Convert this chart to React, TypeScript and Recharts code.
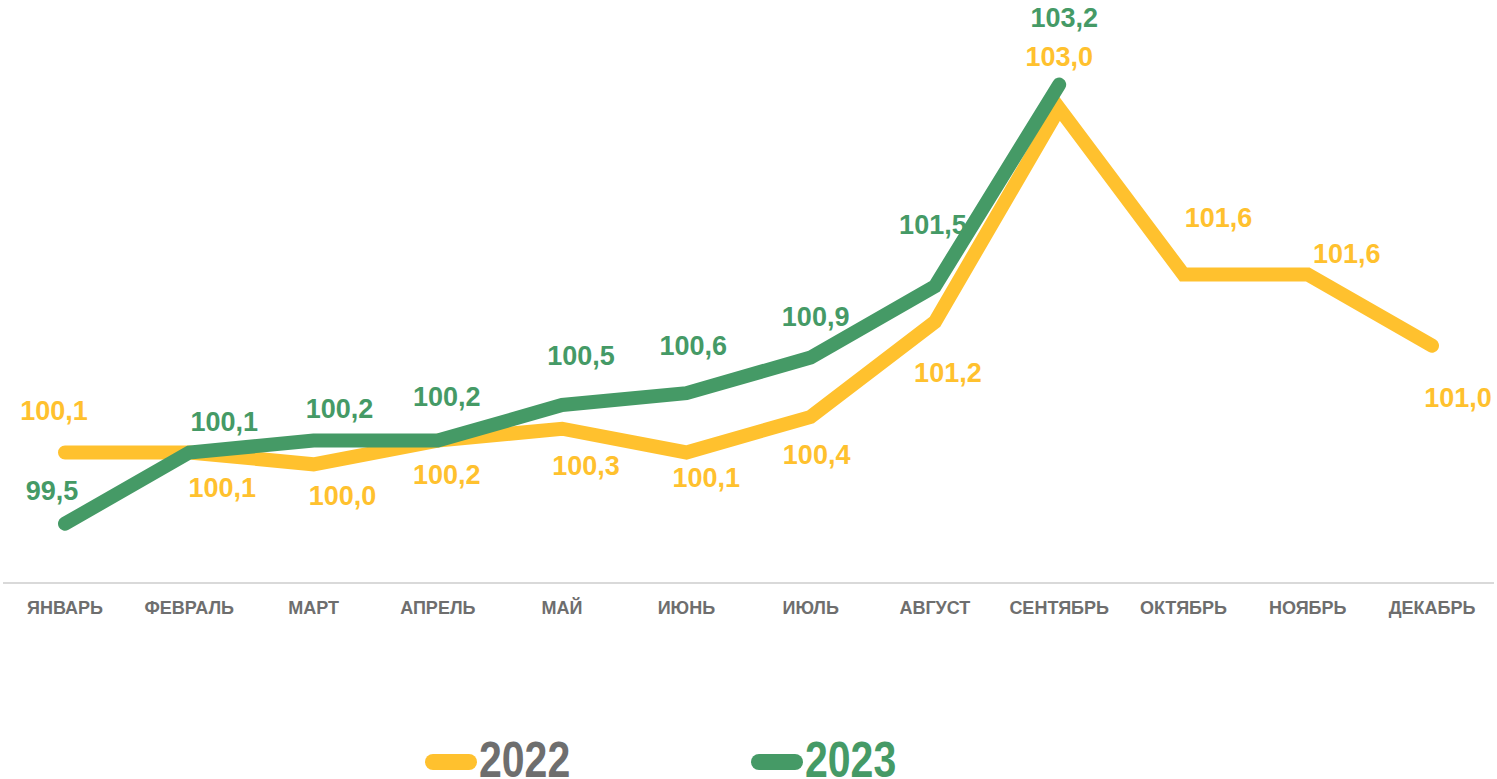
import { LineChart, Line, XAxis, YAxis, LabelList } from 'recharts'

// ── Palette ──────────────────────────────────────────────────────────────────
const C = {
  yellow: '#FFC12E',
  green:  '#459A66',
  gray:   '#6E6E6E',
  axis:   '#D9D9D9',
}

// ── Data ─────────────────────────────────────────────────────────────────────
const months = [
  'ЯНВАРЬ', 'ФЕВРАЛЬ', 'МАРТ', 'АПРЕЛЬ', 'МАЙ', 'ИЮНЬ',
  'ИЮЛЬ', 'АВГУСТ', 'СЕНТЯБРЬ', 'ОКТЯБРЬ', 'НОЯБРЬ', 'ДЕКАБРЬ',
]
const values2022 = [100.1, 100.1, 100.0, 100.2, 100.3, 100.1, 100.4, 101.2, 103.0, 101.6, 101.6, 101.0]
const values2023 = [99.5, 100.1, 100.2, 100.2, 100.5, 100.6, 100.9, 101.5, 103.2, null, null, null]

const data = months.map((m, i) => ({ month: m, y2022: values2022[i], y2023: values2023[i] }))

// label offsets (dx, dy) from each point, per series
const OFFS_2022 = [
  [-11, -41], [33, 36], [29, 32], [9, 34], [24, 37], [20, 26],
  [6, 38], [13, 51], [0, -51], [35, -56], [39, -20], [26, 52],
]
const OFFS_2023 = [
  [-13, -33], [35, -30], [26, -32], [9, -44], [19, -49], [7, -47],
  [5, -41], [-2, -61], [5, -67],
]

const FONT = "'Liberation Sans', Arial, sans-serif"
const fmt = (v: number) => v.toFixed(1).replace('.', ',')

function makeLabel(color: string, offs: number[][]) {
  return (props: any) => {
    const { x, y, value, index } = props
    if (value == null || x == null) return null
    const [dx, dy] = offs[index] ?? [0, -30]
    return (
      <text
        x={x + dx} y={y + dy}
        textAnchor="middle" dominantBaseline="central"
        fill={color} fontSize={27} fontWeight={700} fontFamily={FONT}
      >
        {fmt(value)}
      </text>
    )
  }
}

// narrow bold legend text (condensed by scaling, no narrow font installed)
function LegendItem({ color, textColor, label }: { color: string; textColor: string; label: string }) {
  return (
    <div style={{ display: 'flex', alignItems: 'center' }}>
      <span style={{ display: 'inline-block', width: 52, height: 16, borderRadius: 8, background: color, marginTop: 4 }} />
      <span style={{ display: 'inline-block', width: 93, marginLeft: 2, overflow: 'visible', whiteSpace: 'nowrap' }}>
        <span style={{
          display: 'inline-block', transform: 'scaleX(0.82)', transformOrigin: 'left center',
          fontFamily: FONT, fontWeight: 700, fontSize: 50, lineHeight: '50px', color: textColor,
        }}>{label}</span>
      </span>
    </div>
  )
}

export default function App() {
  return (
    <div style={{ position: 'absolute', left: 0, top: 0, width: 1497, height: 779, background: '#fff', overflow: 'hidden' }}>
      <LineChart width={1497} height={779} data={data} margin={{ top: 49, right: 3, bottom: 166, left: 3 }}>
        <XAxis
          dataKey="month"
          padding={{ left: 62, right: 62 }}
          axisLine={{ stroke: C.axis, strokeWidth: 2 }}
          tickLine={false}
          tickMargin={12}
          height={30}
          interval={0}
          tick={{ fill: C.gray, fontSize: 18, fontWeight: 700, fontFamily: FONT }}
        />
        <YAxis hide domain={[99, 103.5]} />
        <Line
          dataKey="y2022" stroke={C.yellow} strokeWidth={14}
          strokeLinecap="round" strokeLinejoin="miter"
          dot={false} activeDot={false} isAnimationActive={false}
        >
          <LabelList dataKey="y2022" content={makeLabel(C.yellow, OFFS_2022)} />
        </Line>
        <Line
          dataKey="y2023" stroke={C.green} strokeWidth={14}
          strokeLinecap="round" strokeLinejoin="miter"
          dot={false} activeDot={false} isAnimationActive={false}
        >
          <LabelList dataKey="y2023" content={makeLabel(C.green, OFFS_2023)} />
        </Line>
      </LineChart>
      <div style={{ position: 'absolute', left: 425, top: 735, display: 'flex', gap: 179 }}>
        <LegendItem color={C.yellow} textColor={C.gray} label="2022" />
        <LegendItem color={C.green} textColor={C.green} label="2023" />
      </div>
    </div>
  )
}
